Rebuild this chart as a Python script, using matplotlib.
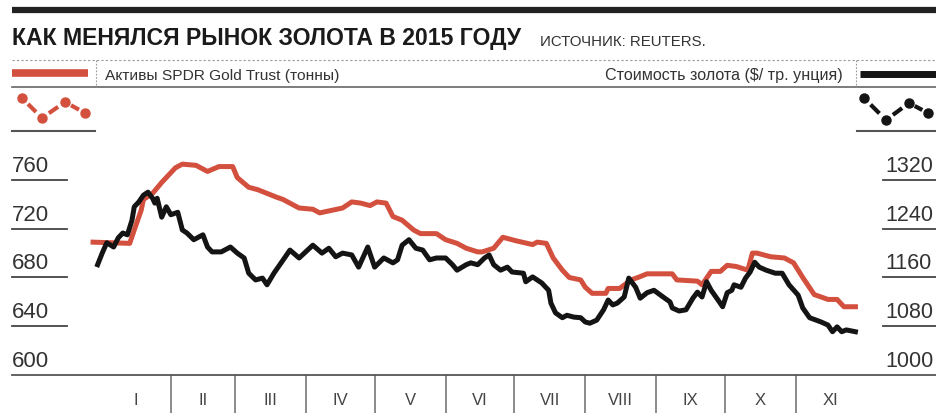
import numpy as np
import matplotlib
matplotlib.use('Agg')
import matplotlib.pyplot as plt
from matplotlib.lines import Line2D

plt.rcParams['font.family'] = ['Liberation Sans', 'DejaVu Sans']

# days counted from 1 Jan 2015
red_day = [-3, 13, 15, 18, 19, 23, 27, 33, 36, 42, 47, 52, 58, 60, 65, 69, 73, 77, 80, 83,
           87, 93, 96, 101, 106, 110, 114, 118, 121, 125, 128, 132, 137, 140, 147, 151, 156, 160, 165, 167,
           172, 176, 182, 189, 191, 195, 198, 202, 205, 210, 212, 215, 221, 222, 227, 232, 235, 239, 250, 252,
           261, 263, 267, 271, 274, 278, 283, 285, 287, 293, 299, 303, 307, 312, 318, 322, 325, 330]
red_tonnes = [709, 708, 719, 735, 744, 749, 758, 770, 773, 772, 767, 771, 771, 762, 754, 752, 749, 746, 744, 741,
              737, 736, 733, 735, 737, 742, 741, 739, 742, 741, 730, 727, 719, 716, 716, 711, 708, 704, 701, 701,
              704, 713, 710, 707, 709, 708, 696, 686, 680, 678, 672, 667, 667, 671, 671, 678, 680, 683, 683, 678,
              677, 674, 685, 685, 690, 689, 686, 700, 700, 697, 696, 692, 680, 666, 662, 662, 656, 656]

gold_day = [-1, 1, 3, 6, 8, 10, 12, 14, 15, 17, 19, 21, 23, 24, 25, 27, 29, 31, 34, 36,
            38, 41, 45, 47, 49, 53, 57, 60, 63, 65, 68, 71, 73, 76, 81, 83, 87, 93, 97, 100,
            103, 106, 110, 113, 117, 120, 124, 128, 130, 132, 135, 138, 141, 144, 147, 151, 154, 156, 160, 162,
            165, 168, 170, 172, 175, 178, 180, 185, 186, 189, 193, 196, 197, 199, 202, 204, 207, 210, 212, 214,
            217, 220, 222, 224, 226, 229, 231, 234, 236, 239, 242, 246, 249, 250, 253, 256, 259, 261, 263, 265,
            267, 270, 272, 274, 276, 277, 280, 282, 284, 286, 288, 291, 295, 298, 301, 305, 307, 310, 315, 318,
            320, 322, 324, 326, 330]
gold_usd = [1181, 1200, 1217, 1210, 1225, 1233, 1230, 1254, 1276, 1284, 1295, 1300, 1290, 1282, 1290, 1259, 1276, 1263, 1267, 1238,
            1233, 1222, 1230, 1210, 1202, 1202, 1210, 1200, 1192, 1167, 1156, 1159, 1148, 1167, 1194, 1205, 1192, 1213, 1200, 1208,
            1194, 1200, 1197, 1177, 1210, 1177, 1192, 1184, 1189, 1213, 1222, 1208, 1205, 1189, 1192, 1192, 1181, 1172, 1181, 1184,
            1181, 1192, 1197, 1181, 1172, 1177, 1169, 1167, 1153, 1161, 1151, 1139, 1118, 1102, 1094, 1098, 1095, 1094, 1087, 1085,
            1090, 1107, 1123, 1115, 1118, 1128, 1159, 1144, 1126, 1135, 1139, 1128, 1120, 1110, 1105, 1107, 1126, 1136, 1128, 1153,
            1139, 1123, 1112, 1135, 1139, 1148, 1144, 1159, 1169, 1185, 1177, 1172, 1167, 1167, 1148, 1131, 1110, 1094, 1087, 1082,
            1071, 1079, 1071, 1074, 1071]

left_ticks = [600, 640, 680, 720, 760]
right_ticks = [1000, 1080, 1160, 1240, 1320]
month_names = ['I', 'II', 'III', 'IV', 'V', 'VI', 'VII', 'VIII', 'IX', 'X', 'XI']

title = 'КАК МЕНЯЛСЯ РЫНОК ЗОЛОТА В 2015 ГОДУ'
source = 'ИСТОЧНИК: REUTERS.'
label_red = 'Активы SPDR Gold Trust (тонны)'
label_black = 'Стоимость золота ($/ тр. унция)'

RED = '#d4503e'
BLACK = '#141414'
TXT = '#333333'

W, H = 936, 413
fig = plt.figure(figsize=(W / 100, H / 100), dpi=100)
renderer = fig.canvas.get_renderer()


def fig_line(xs, ys, **kw):
    # xs, ys in figure pixels measured from the top-left corner
    fig.add_artist(Line2D([x / W for x in xs], [1 - y / H for y in ys], **kw))


def fit_width(t, width_px):
    # the original uses a condensed face; match its text width instead
    w = t.get_window_extent(renderer).width
    t.set_fontsize(t.get_fontsize() * width_px / w)


def glyph(xs, ys, color):
    # dots joined by short dashes, as in the little legend sign
    fig_line(xs, ys, color=color, ls='none', marker='o', ms=6.5, mec=color)
    for i in range(len(xs) - 1):
        x0, x1, y0, y1 = xs[i], xs[i + 1], ys[i], ys[i + 1]
        fig_line([x0 + 0.3 * (x1 - x0), x0 + 0.7 * (x1 - x0)],
                 [y0 + 0.3 * (y1 - y0), y0 + 0.7 * (y1 - y0)],
                 color=color, lw=3, solid_capstyle='butt')


# ---- header ----
fig_line([12, 936], [10, 10], color='#222222', lw=4.5, solid_capstyle='butt')
t = fig.text(12 / W, 1 - 45 / H, title, fontsize=18, fontweight='bold', color='#1a1a1a', va='baseline')
fit_width(t, 510)
t = fig.text(540 / W, 1 - 46 / H, source, fontsize=12, color=TXT, va='baseline')
fit_width(t, 165)
fig_line([12, 936], [60, 60], color='#999999', lw=0.8, ls=(0, (2, 2)))
fig_line([12, 936], [87, 87], color='#666666', lw=1.2)
fig_line([96, 96], [60, 87], color='#999999', lw=0.8, ls=(0, (1.5, 1.5)))
fig_line([856, 856], [60, 87], color='#999999', lw=0.8, ls=(0, (1.5, 1.5)))
fig_line([12, 88], [73, 73], color=RED, lw=5.5, solid_capstyle='butt')
fig_line([860, 936], [73.5, 73.5], color=BLACK, lw=5, solid_capstyle='butt')
t = fig.text(105 / W, 1 - 80 / H, label_red, fontsize=11, color=TXT, va='baseline')
fit_width(t, 233)
t = fig.text(843 / W, 1 - 80 / H, label_black, fontsize=11, color=TXT, va='baseline', ha='right')
fit_width(t, 238)

glyph([22, 42, 65, 85], [98, 118, 102, 113], RED)
glyph([864, 886, 909, 928], [98, 120, 103, 113], BLACK)
fig_line([12, 95], [131, 131], color='#555555', lw=1.5)
fig_line([857, 936], [131, 131], color='#555555', lw=1.5)

# ---- chart ----
ax = fig.add_axes([12 / W, (H - 375) / H, (936 - 12) / W, (375 - 140) / H])
ax2 = ax.twinx()
ax.set_xlim(-38.4, 365.2)
ax.set_ylim(600, 792.8)
ax2.set_ylim(1000, 1385.6)

for a in (ax, ax2):
    for s in a.spines.values():
        s.set_visible(False)
    a.tick_params(left=False, right=False, bottom=False,
                  labelleft=False, labelright=False, labelbottom=False)
ax.spines['bottom'].set_visible(True)
ax.spines['bottom'].set_color('#555555')
ax.spines['bottom'].set_linewidth(1.3)

ax.plot(red_day, red_tonnes, color=RED, lw=3.6, solid_joinstyle='round')
ax2.plot(gold_day, gold_usd, color=BLACK, lw=3.6, solid_joinstyle='round')

# value labels with short underlines
for v in left_ticks:
    if v != left_ticks[0]:
        ax.plot([0, 0.0595], [v, v], transform=ax.get_yaxis_transform(),
                color='#444444', lw=1.3, clip_on=False)
    ax.annotate(str(v), xy=(0, v), xycoords=ax.get_yaxis_transform(),
                xytext=(0, 8), textcoords='offset pixels',
                ha='left', va='baseline', fontsize=16, color=TXT)
for v in right_ticks:
    if v != right_ticks[0]:
        ax2.plot([0.9426, 1.0], [v, v], transform=ax2.get_yaxis_transform(),
                 color='#444444', lw=1.3, clip_on=False)
    ax2.annotate(str(v), xy=(0.9448, v), xycoords=ax2.get_yaxis_transform(),
                 xytext=(0, 8), textcoords='offset pixels',
                 ha='left', va='baseline', fontsize=15.5, color=TXT)

# month strip
months = np.arange('2015-01', '2015-12', dtype='datetime64[M]')
starts = (months.astype('datetime64[D]') - np.datetime64('2015-01-01')).astype(int)
ends = ((months + 1).astype('datetime64[D]') - np.datetime64('2015-01-01')).astype(int)
centers = (starts + ends) / 2
ax.vlines(starts[1:], -0.17, 0, transform=ax.get_xaxis_transform(),
          color='#777777', lw=1.2, clip_on=False)
for c, name in zip(centers, month_names):
    ax.text(c, -0.107, name, transform=ax.get_xaxis_transform(),
            ha='center', va='center', fontsize=12, color='#444444')

fig.savefig('out.png', dpi=100)
